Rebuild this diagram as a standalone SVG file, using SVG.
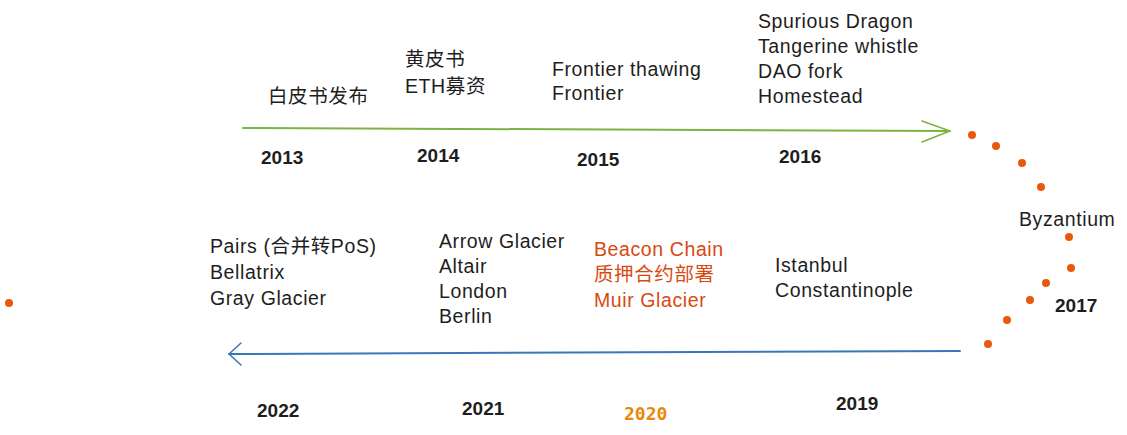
<svg xmlns="http://www.w3.org/2000/svg" width="1127" height="435" viewBox="0 0 1127 435">
<style>
.t{font-family:"Liberation Sans","Noto Sans CJK SC",sans-serif;font-size:19.5px;letter-spacing:0.6px;fill:#1e1e1e}
.y{font-family:"Liberation Sans",sans-serif;font-size:19px;font-weight:bold;fill:#1e1e1e}
.o{fill:#d9480f}
.d{fill:#e8590c}
</style>
<rect width="1127" height="435" fill="#fff"/>
<g id="connectors" fill="none" stroke-linecap="round" stroke-linejoin="round">
<path d="M243 128 L950 131" stroke="#7cb342" stroke-width="2"/>
<path d="M922 121 L950 131 L922 142" stroke="#7cb342" stroke-width="1.6"/>
<path d="M960 351 L229 354" stroke="#3b77b8" stroke-width="2"/>
<path d="M241 343 L229 354 L241 365" stroke="#3b77b8" stroke-width="1.6"/>
</g>
<g id="dots">
<circle class="d" cx="972" cy="135" r="4"/>
<circle class="d" cx="996" cy="146" r="4"/>
<circle class="d" cx="1022" cy="163" r="4"/>
<circle class="d" cx="1041" cy="187" r="4"/>
<circle class="d" cx="1069" cy="237" r="4"/>
<circle class="d" cx="1071" cy="268" r="4"/>
<circle class="d" cx="1046" cy="283" r="4"/>
<circle class="d" cx="1030" cy="300" r="4"/>
<circle class="d" cx="1007" cy="320" r="4"/>
<circle class="d" cx="988" cy="344" r="4"/>
<circle class="d" cx="9" cy="303" r="4"/>
</g>
<g id="n2013"><text class="t" x="268" y="103">白皮书发布</text><text class="y" x="261" y="164">2013</text></g>
<g id="n2014"><text class="t" x="405" y="66">黄皮书</text><text class="t" x="405" y="93">ETH募资</text><text class="y" x="417" y="162">2014</text></g>
<g id="n2015"><text class="t" x="552" y="76">Frontier thawing</text><text class="t" x="552" y="100">Frontier</text><text class="y" x="577" y="166">2015</text></g>
<g id="n2016"><text class="t" x="758" y="28">Spurious Dragon</text><text class="t" x="758" y="53">Tangerine whistle</text><text class="t" x="758" y="78">DAO fork</text><text class="t" x="758" y="103">Homestead</text><text class="y" x="779" y="163">2016</text></g>
<g id="n2017"><text class="t" x="1019" y="226">Byzantium</text><text class="y" x="1055" y="312">2017</text></g>
<g id="n2019"><text class="t" x="775" y="272">Istanbul</text><text class="t" x="775" y="297">Constantinople</text><text class="y" x="836" y="410">2019</text></g>
<g id="n2020"><text class="t o" x="594" y="256">Beacon Chain</text><text class="t o" x="594" y="281">质押合约部署</text><text class="t o" x="594" y="307">Muir Glacier</text><text x="624" y="420" font-family="DejaVu Sans Mono,monospace" font-size="18" font-weight="bold" fill="#e8890c">2020</text></g>
<g id="n2021"><text class="t" x="439" y="248">Arrow Glacier</text><text class="t" x="439" y="273">Altair</text><text class="t" x="439" y="298">London</text><text class="t" x="439" y="323">Berlin</text><text class="y" x="462" y="415">2021</text></g>
<g id="n2022"><text class="t" x="210" y="253">Pairs (合并转PoS)</text><text class="t" x="210" y="279">Bellatrix</text><text class="t" x="210" y="305">Gray Glacier</text><text class="y" x="257" y="417">2022</text></g>
</svg>
